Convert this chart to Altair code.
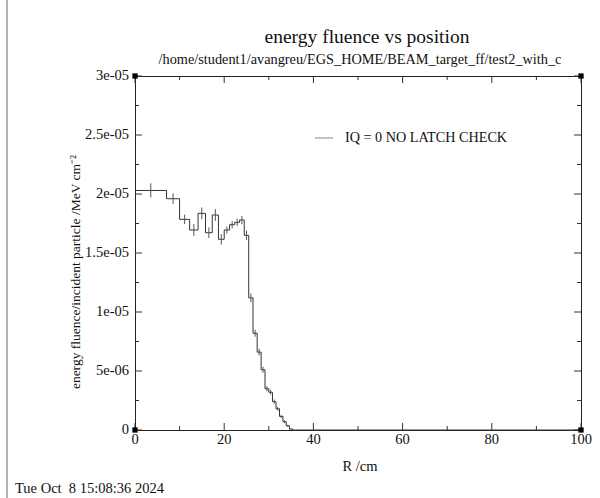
import altair as alt
import pandas as pd

# Annular bin edges (cm) and scored energy fluence per bin
bin_edges = [0.0, 7.07, 10.0, 12.25, 14.14, 15.81, 17.32, 18.71, 20.0, 21.21,
             22.36, 23.45, 24.49, 25.5, 26.46, 27.39, 28.28, 29.15, 30.0, 30.82,
             31.62, 32.4, 33.17, 33.91, 34.64, 35.36, 36.06]
fluence = [2.03e-5, 1.96e-5, 1.785e-5, 1.695e-5, 1.836e-5, 1.672e-5, 1.822e-5,
           1.616e-5, 1.695e-5, 1.74e-5, 1.76e-5, 1.78e-5, 1.65e-5, 1.12e-5,
           8.2e-6, 6.6e-6, 5.1e-6, 3.5e-6, 3.2e-6, 2.4e-6, 1.8e-6, 1.15e-6,
           0.7e-6, 0.35e-6, 0.08e-6, 0.0]
fluence_err = [0.6e-6, 0.45e-6, 0.4e-6, 0.5e-6, 0.5e-6, 0.45e-6, 0.5e-6, 0.45e-6,
               0.3e-6, 0.3e-6, 0.3e-6, 0.35e-6, 0.4e-6, 0.37e-6, 0.3e-6, 0.28e-6,
               0.25e-6, 0.22e-6, 0.2e-6, 0.18e-6, 0.16e-6, 0.14e-6, 0.12e-6,
               0.1e-6, 0.05e-6, 0.0]
r_max = 100.0

# Axis ticks
x_major = [0, 20, 40, 60, 80, 100]
x_minor = [10, 30, 50, 70, 90]
x_labels = ["0", "20", "40", "60", "80", "100"]
y_major = [0.0, 5e-6, 1e-5, 1.5e-5, 2e-5, 2.5e-5, 3e-5]
y_minor = [2.5e-6, 7.5e-6, 1.25e-5, 1.75e-5, 2.25e-5, 2.75e-5]
y_labels = ["0", "5e-06", "1e-05", "1.5e-05", "2e-05", "2.5e-05", "3e-05"]

title_text = "energy fluence vs position"
subtitle_text = "/home/student1/avangreu/EGS_HOME/BEAM_target_ff/test2_with_c"
legend_text = "IQ = 0 NO LATCH CHECK"
x_title = "R /cm"
y_title = "energy fluence/incident particle /MeV cm\u207b\u00b2"
date_text = "Tue Oct\u00a0 8 15:08:36 2024"

W, H = 446, 354
FONT = "Liberation Serif"
LINE = "#333333"
TXT = "#111111"

xs = alt.Scale(domain=[0, 100], nice=False, zero=False)
ys = alt.Scale(domain=[0, 3e-5], nice=False, zero=False)

# Step histogram
step_x = bin_edges + [r_max]
step_y = fluence + [0.0, 0.0]
step_df = pd.DataFrame({"r": step_x, "f": step_y})
hist = alt.Chart(step_df).mark_line(
    interpolate="step-after", color=LINE, strokeWidth=1
).encode(
    x=alt.X("r:Q", scale=xs, axis=None),
    y=alt.Y("f:Q", scale=ys, axis=None),
)

# Error bars at bin centres
err_rows = []
for i, (v, e) in enumerate(zip(fluence, fluence_err)):
    if e > 0:
        c = 0.5 * (bin_edges[i] + bin_edges[i + 1])
        err_rows.append({"r": c, "lo": v - e, "hi": v + e})
err_df = pd.DataFrame(err_rows)
errbars = alt.Chart(err_df).mark_rule(color="#555555", strokeWidth=1).encode(
    x=alt.X("r:Q", scale=xs, axis=None),
    y=alt.Y("lo:Q", scale=ys, axis=None),
    y2="hi:Q",
)

# Frame ticks (pointing inwards on all four sides)
def yticks(vals, length):
    df = pd.DataFrame({"v": vals})
    left = alt.Chart(df).mark_rule(color=LINE).encode(
        y=alt.Y("v:Q", scale=ys, axis=None), x=alt.value(0), x2=alt.value(length))
    right = alt.Chart(df).mark_rule(color=LINE).encode(
        y=alt.Y("v:Q", scale=ys, axis=None), x=alt.value(W), x2=alt.value(W - length))
    return [left, right]

def xticks(vals, length):
    df = pd.DataFrame({"v": vals})
    bottom = alt.Chart(df).mark_rule(color=LINE).encode(
        x=alt.X("v:Q", scale=xs, axis=None), y=alt.value(H), y2=alt.value(H - length))
    top = alt.Chart(df).mark_rule(color=LINE).encode(
        x=alt.X("v:Q", scale=xs, axis=None), y=alt.value(0), y2=alt.value(length))
    return [bottom, top]

ticks = yticks(y_major, 7) + yticks(y_minor, 4) + xticks(x_major, 7) + xticks(x_minor, 4)

# Tick labels
ylab = alt.Chart(pd.DataFrame({"v": y_major, "t": y_labels})).mark_text(
    align="right", baseline="middle", font=FONT, fontSize=14.5, color=TXT, dx=-6
).encode(y=alt.Y("v:Q", scale=ys, axis=None), x=alt.value(0), text="t:N")
xlab = alt.Chart(pd.DataFrame({"v": x_major, "t": x_labels})).mark_text(
    align="center", baseline="top", font=FONT, fontSize=14.5, color=TXT
).encode(x=alt.X("v:Q", scale=xs, axis=None), y=alt.value(H + 3), text="t:N")

# Corner markers
corner_df = pd.DataFrame({"r": [0, 0, 100, 100], "f": [0.0, 3e-5, 0.0, 3e-5]})
corners = alt.Chart(corner_df).mark_square(size=28, color="#000000", opacity=1).encode(
    x=alt.X("r:Q", scale=xs, axis=None), y=alt.Y("f:Q", scale=ys, axis=None))

def text(s, x, y, size, align="center", angle=0):
    kw = dict(align=align, baseline="middle", font=FONT, fontSize=size, color=TXT)
    if angle:
        kw["angle"] = angle
    return alt.Chart(pd.DataFrame({"t": [s]})).mark_text(**kw).encode(
        x=alt.value(x), y=alt.value(y), text="t:N")

titles = [
    text(title_text, 232, -39, 19.5),
    text(subtitle_text, 225, -16, 14.3),
    text(x_title, 225, H + 37, 14.5),
    text(y_title, -59, 196, 13.5, angle=270),
    text(date_text, -120, H + 59, 14.5, align="left"),
    text(legend_text, 210, 62, 14.2, align="left"),
]

legend_line = alt.Chart(pd.DataFrame({"a": [0]})).mark_rule(
    color="#888888", strokeWidth=1
).encode(x=alt.value(180), x2=alt.value(198), y=alt.value(62))

edge_line = alt.Chart(pd.DataFrame({"a": [0]})).mark_rule(
    color="#999999", strokeWidth=1.5
).encode(x=alt.value(-128), y=alt.value(-76), y2=alt.value(H + 68))

chart = alt.layer(
    hist, errbars, *ticks, ylab, xlab, corners, legend_line, edge_line, *titles
).properties(
    width=W, height=H,
    autosize="none",
    padding={"left": 135, "top": 76, "right": 19, "bottom": 68},
    background="white",
).configure_view(stroke="#222222", strokeWidth=1)

chart.save("out.html", embed_options={"renderer": "svg", "actions": False})
